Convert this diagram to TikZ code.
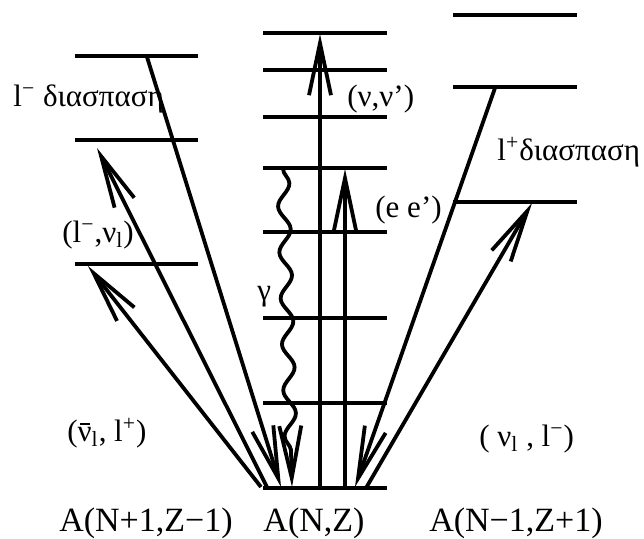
\documentclass[tikz,border=0pt]{standalone}
\usepackage{fontspec}
\setmainfont{Liberation Serif}
\usetikzlibrary{arrows.meta, decorations.pathmorphing}

\begin{document}
\begin{tikzpicture}[x=0.5pt, y=-0.5pt,
  level/.style={line width=2.1pt},
  trans/.style={line width=1.9pt, -{Straight Barb[length=26pt, width=11pt]}},
  lbl/.style={font=\fontsize{15.5}{18}\selectfont, inner sep=0pt, anchor=base west},
  nucl/.style={font=\fontsize{17}{20}\selectfont, inner sep=0pt, anchor=base}]
  \useasboundingbox (0,0) rectangle (644,538);

  % Levels A(N+1,Z-1)
  \foreach \y in {56, 140, 264}
    \draw[level] (75,\y) -- (198,\y);
  % Levels A(N,Z)
  \foreach \y in {33, 70, 117, 168, 232, 318, 403, 488}
    \draw[level] (263,\y) -- (387,\y);
  % Levels A(N-1,Z+1)
  \foreach \y in {15, 87, 202}
    \draw[level] (453,\y) -- (577,\y);

  % End points of the transitions
  \coordinate (nubar-a) at (261,487);
  \coordinate (nubar-b) at (88,266);
  \coordinate (lnu-a) at (267,487);
  \coordinate (lnu-b) at (97,148);
  \coordinate (lmin-a) at (147,57);
  \coordinate (lmin-b) at (281,487);
  \coordinate (gam-a) at (283,169);
  \coordinate (gam-b) at (292,487);
  \coordinate (nunu-a) at (320,488);
  \coordinate (nunu-b) at (320,34);
  \coordinate (ee-a) at (345,488);
  \coordinate (ee-b) at (345,169);
  \coordinate (lplus-a) at (495,88);
  \coordinate (lplus-b) at (355,487);
  \coordinate (nul-a) at (366,488);
  \coordinate (nul-b) at (532,203);

  % Transitions
  \draw[trans] (nubar-a) -- (nubar-b);
  \draw[trans] (lnu-a) -- (lnu-b);
  \draw[trans] (lmin-a) -- (lmin-b);
  \draw[trans, decorate, decoration={snake, amplitude=3pt, segment length=23pt, post length=16pt}] (gam-a) -- (gam-b);
  \draw[trans] (nunu-a) -- (nunu-b);
  \draw[trans] (ee-a) -- (ee-b);
  \draw[trans] (lplus-a) -- (lplus-b);
  \draw[trans] (nul-a) -- (nul-b);

  % Labels
  \node[lbl] (ldecay) at (13,106) {l\textsuperscript{−} διασπαση};
  \node[lbl] (nunu) at (347,106) {(ν,ν')};
  \node[lbl] (ee) at (375,217) {(e e')};
  \node[lbl] (pdecay) at (497,160) {l\textsuperscript{+}διασπαση};
  \node[lbl] (lnu) at (62,242) {(l\textsuperscript{−},ν\textsubscript{l})};
  \node[lbl] (gam) at (257,300) {γ};
  \node[lbl] (nubar) at (67,441) {(\ooalign{ν\cr\hfil\raisebox{1.15ex}{\rule{0.32em}{0.06em}}\hfil\cr}\textsubscript{l}, l\textsuperscript{+})};
  \node[lbl] (nul) at (479,446) {( ν\textsubscript{l} , l\textsuperscript{−})};

  % Nuclei
  \node[nucl] (left) at (146,531) {A(N+1,Z−1)};
  \node[nucl] (mid) at (314,531) {A(N,Z)};
  \node[nucl] (right) at (516,531) {A(N−1,Z+1)};
\end{tikzpicture}
\end{document}
